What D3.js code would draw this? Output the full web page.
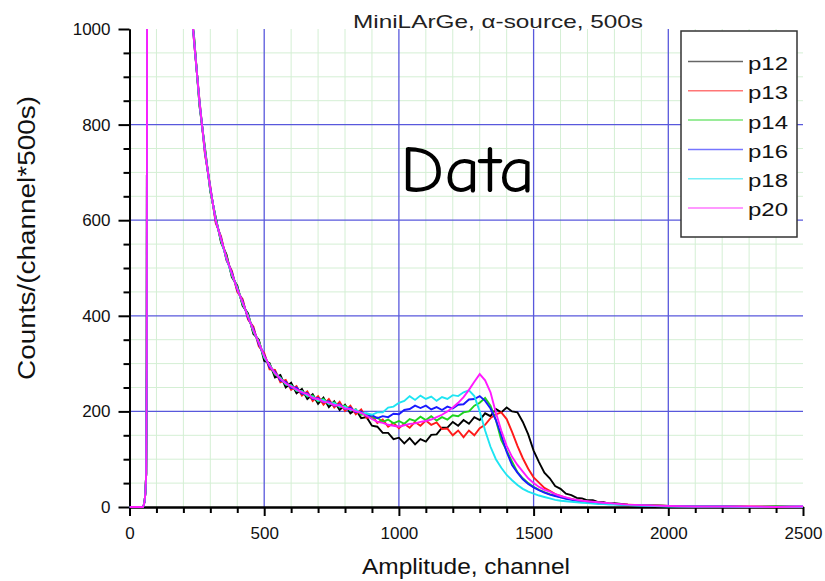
<!DOCTYPE html>
<html lang="en">
<head>
	<meta charset="utf-8">
	<title>MiniLArGe alpha-source spectra</title>
	<script src="https://d3js.org/d3.v7.min.js"></script>
	<style type="text/css">
		body { margin: 0; background: #fff; }
		.axis path,
		.axis line {
			fill: none;
			stroke: black;
			stroke-width: 2;
		}
		.axis text {
			font-family: "Liberation Sans", Arial, sans-serif;
			font-size: 17px;
			fill: #111;
		}
	</style>
</head>
<body>
<script type="text/javascript">

	// Rising edge near the threshold - every series sits on top of each other here
	var riseChannels = [0, 50, 53, 56, 59, 62, 64, 66, 100, 150, 200, 225, 236];
	var riseCounts   = [0, 0, 4, 12, 30, 70, 300, 1500, 3000, 2600, 1600, 1150, 1000];

	// Channels sampled for the rest of the spectrum
	var channels = [
		240, 260, 280, 300, 320, 340, 360, 380, 400, 420,
		440, 460, 480, 500, 520, 540, 560, 580, 600, 620,
		640, 660, 680, 700, 720, 740, 760, 780, 800, 820,
		840, 860, 880, 900, 920, 940, 960, 980, 1000, 1020,
		1040, 1060, 1080, 1100, 1120, 1140, 1160, 1180, 1200, 1220,
		1240, 1260, 1280, 1300, 1320, 1340, 1360, 1380, 1400, 1420,
		1440, 1460, 1480, 1500, 1520, 1540, 1560, 1580, 1600, 1620,
		1640, 1660, 1680, 1700, 1720, 1740, 1760, 1780, 1800,
		1850, 1900, 1950, 2000, 2100, 2200, 2300, 2400, 2500
	];

	var p12 = [
		982, 838, 752, 660, 606, 553, 528, 481, 463, 421,
		405, 362, 350, 306, 301, 271, 276, 250, 260, 238,
		247, 226, 236, 216, 229, 209, 221, 203, 214, 196,
		204, 186, 188, 170, 168, 155, 155, 142, 145, 133,
		144, 131, 142, 137, 151, 152, 166, 166, 178, 170,
		182, 174, 188, 182, 196, 190, 205, 198, 208, 200,
		198, 178, 152, 118, 94, 72, 60, 44, 38, 28,
		25, 19, 18, 14, 14, 10, 10, 7, 8,
		5, 4, 3, 2, 1, 1, 0, 1, 0
	];
	var p13 = [
		970, 850, 738, 670, 594, 566, 516, 494, 450, 435,
		392, 377, 336, 322, 288, 287, 261, 266, 245, 253,
		233, 242, 222, 232, 214, 226, 208, 220, 201, 212,
		194, 204, 186, 191, 176, 183, 168, 176, 165, 174,
		166, 178, 170, 181, 172, 177, 163, 164, 150, 160,
		146, 160, 150, 165, 172, 186, 194, 198, 184, 157,
		128, 102, 80, 62, 51, 40, 34, 27, 23, 19,
		17, 14, 13, 11, 10, 9, 8, 7, 6,
		5, 4, 3, 2, 1, 1, 1, 0, 0
	];
	var p14 = [
		978, 842, 748, 662, 604, 556, 525, 484, 460, 424,
		402, 366, 347, 312, 298, 277, 271, 256, 255, 243,
		243, 231, 233, 221, 226, 215, 219, 209, 212, 202,
		204, 193, 195, 185, 187, 178, 183, 175, 180, 174,
		184, 180, 189, 182, 190, 181, 188, 183, 192, 190,
		198, 200, 212, 218, 228, 212, 182, 140, 118, 95,
		73, 60, 50, 42, 36, 31, 27, 24, 21, 18,
		16, 14, 12, 11, 10, 9, 8, 7, 6,
		4, 3, 3, 2, 1, 1, 0, 1, 0
	];
	var p16 = [
		972, 848, 742, 668, 598, 562, 518, 491, 454, 431,
		395, 373, 340, 318, 292, 283, 265, 262, 249, 250,
		237, 238, 226, 228, 219, 221, 212, 215, 205, 208,
		198, 200, 190, 192, 186, 190, 188, 195, 194, 203,
		205, 212, 207, 212, 204, 209, 203, 210, 206, 214,
		215, 225, 226, 232, 222, 206, 182, 150, 115, 88,
		72, 58, 48, 41, 35, 30, 26, 23, 20, 17,
		15, 13, 11, 10, 9, 8, 7, 6, 6,
		4, 3, 2, 2, 1, 1, 0, 0, 1
	];
	var p18 = [
		976, 844, 746, 664, 602, 558, 520, 486, 458, 426,
		400, 368, 345, 313, 297, 279, 270, 257, 254, 244,
		242, 233, 231, 223, 224, 216, 217, 210, 210, 203,
		203, 196, 196, 193, 198, 198, 208, 210, 218, 222,
		232, 224, 233, 226, 231, 222, 230, 226, 234, 232,
		240, 244, 232, 200, 160, 126, 100, 82, 67, 56,
		46, 38, 32, 28, 24, 21, 18, 15, 13, 12,
		11, 10, 9, 8, 7, 6, 6, 5, 5,
		4, 3, 2, 1, 1, 1, 0, 0, 0
	];
	var p20 = [
		974, 846, 744, 666, 600, 560, 522, 488, 456, 428,
		398, 370, 344, 316, 296, 280, 268, 259, 252, 246,
		240, 236, 228, 226, 220, 219, 213, 213, 206, 205,
		200, 197, 191, 184, 178, 176, 172, 170, 168, 171,
		174, 175, 178, 180, 183, 188, 193, 200, 208, 218,
		230, 245, 262, 278, 265, 240, 197, 160, 128, 105,
		88, 74, 60, 50, 42, 36, 32, 27, 23, 20,
		17, 15, 13, 12, 11, 10, 9, 8, 7,
		5, 4, 3, 2, 1, 1, 1, 0, 1
	];

	var seriesNames  = ["p12", "p13", "p14", "p16", "p18", "p20"];
	var seriesValues = [p12, p13, p14, p16, p18, p20];
	var seriesColors = ["#000000", "#ff1a1a", "#1ed41e", "#1a1aff", "#1ee4f2", "#ff1aff"];

	var xMajorTicks = [0, 500, 1000, 1500, 2000, 2500];
	var yMajorTicks = [0, 200, 400, 600, 800, 1000];

	// Define margins
	var margin = {top: 29, right: 22, bottom: 74, left: 129.5};
	var outer_width = 825;
	var outer_height = 581;
	var svg_width = outer_width - margin.left - margin.right;
	var svg_height = outer_height - margin.top - margin.bottom;

	var svg = d3.select("body")
				.append("svg")
				.attr("width", outer_width)
				.attr("height", outer_height)
				.append("g")
				.attr("transform", "translate(" + margin.left + "," + margin.top + ")");

	var xScale = d3.scaleLinear().domain([0, 2500]).range([0, svg_width]);
	var yScale = d3.scaleLinear().domain([0, 1000]).range([svg_height, 0]);

	// minor ticks / grid positions
	var xMinor = d3.range(100, 2500, 100).filter(function(v) { return v % 500 != 0; });
	var yMinor = d3.range(50, 1000, 50).filter(function(v) { return v % 200 != 0; });

	// light green minor grid
	svg.append("g").selectAll("line.vminor")
		.data(xMinor).enter().append("line")
		.attr("x1", function(d) { return xScale(d); })
		.attr("x2", function(d) { return xScale(d); })
		.attr("y1", 0).attr("y2", svg_height)
		.attr("stroke", "#d4efd4").attr("stroke-width", 1);
	svg.append("g").selectAll("line.hminor")
		.data(yMinor).enter().append("line")
		.attr("x1", 0).attr("x2", svg_width)
		.attr("y1", function(d) { return yScale(d); })
		.attr("y2", function(d) { return yScale(d); })
		.attr("stroke", "#d4efd4").attr("stroke-width", 1);

	// blue major grid
	svg.append("g").selectAll("line")
		.data(xMajorTicks.slice(1, -1)).enter().append("line")
		.attr("x1", function(d) { return xScale(d); })
		.attr("x2", function(d) { return xScale(d); })
		.attr("y1", 0).attr("y2", svg_height)
		.attr("stroke", "#5858dc").attr("stroke-width", 1.3);
	svg.append("g").selectAll("line")
		.data(yMajorTicks.slice(1, -1)).enter().append("line")
		.attr("x1", 0).attr("x2", svg_width)
		.attr("y1", function(d) { return yScale(d); })
		.attr("y2", function(d) { return yScale(d); })
		.attr("stroke", "#5858dc").attr("stroke-width", 1.3);

	// Axes
	svg.append("g")
		.attr("class", "axis")
		.attr("transform", "translate(0," + svg_height + ")")
		.call(d3.axisBottom(xScale).tickValues(xMinor).tickSize(6).tickSizeOuter(0).tickFormat(""));
	svg.append("g")
		.attr("class", "axis")
		.attr("transform", "translate(0," + svg_height + ")")
		.call(d3.axisBottom(xScale).tickValues(xMajorTicks).tickSize(9).tickSizeOuter(0).tickPadding(11).tickFormat(d3.format("d")));
	svg.append("g")
		.attr("class", "axis")
		.call(d3.axisLeft(yScale).tickValues(yMinor).tickSize(6).tickSizeOuter(0).tickFormat(""));
	svg.append("g")
		.attr("class", "axis")
		.call(d3.axisLeft(yScale).tickValues(yMajorTicks).tickSize(11).tickSizeOuter(0).tickPadding(8).tickFormat(d3.format("d")));

	// clip the spectra to the plot frame
	svg.append("clipPath").attr("id", "plotclip")
		.append("rect")
		.attr("x", 0).attr("y", 0)
		.attr("width", svg_width).attr("height", svg_height + 2);

	var line = d3.line()
		.x(function(d) { return xScale(d[0]); })
		.y(function(d) { return yScale(d[1]); });

	var curves = svg.append("g").attr("clip-path", "url(#plotclip)");
	seriesValues.forEach(function(vals, i) {
		var pts = riseChannels.map(function(c, j) { return [c, riseCounts[j]]; })
			.concat(channels.map(function(c, j) { return [c, vals[j]]; }));
		curves.append("path")
			.datum(pts)
			.attr("d", line)
			.attr("fill", "none")
			.attr("stroke", seriesColors[i])
			.attr("stroke-width", 1.9)
			.attr("stroke-linejoin", "miter");
	});

	// Title
	svg.append("text")
		.attr("x", 353 - margin.left)
		.attr("y", 28 - margin.top)
		.attr("textLength", 290)
		.attr("lengthAdjust", "spacingAndGlyphs")
		.style("font-family", "Liberation Sans, Arial, sans-serif")
		.style("font-size", "18.5px")
		.attr("fill", "#222")
		.text("MiniLArGe, \u03b1-source, 500s");

	// big "Data" label
	svg.append("text")
		.attr("x", 400 - margin.left)
		.attr("y", 192 - margin.top)
		.attr("textLength", 135)
		.attr("lengthAdjust", "spacingAndGlyphs")
		.style("font-family", "'Comic Sans MS', 'Comic Neue', 'DejaVu Sans', sans-serif")
		.style("font-size", "66px")
		.attr("fill", "#000")
		.text("Data");

	// Axis titles
	svg.append("text")
		.attr("x", 362 - margin.left)
		.attr("y", 574 - margin.top)
		.attr("textLength", 208)
		.attr("lengthAdjust", "spacingAndGlyphs")
		.style("font-family", "Liberation Sans, Arial, sans-serif")
		.style("font-size", "22px")
		.attr("fill", "#111")
		.text("Amplitude, channel");

	svg.append("text")
		.attr("transform", "translate(" + (35 - margin.left) + "," + (380 - margin.top) + ") rotate(-90)")
		.attr("textLength", 284)
		.attr("lengthAdjust", "spacingAndGlyphs")
		.style("font-family", "Liberation Sans, Arial, sans-serif")
		.style("font-size", "23px")
		.attr("fill", "#111")
		.text("Counts/(channel*500s)");

	// Legend
	var legend = svg.append("g")
		.attr("transform", "translate(" + (681 - margin.left) + "," + (31 - margin.top) + ")");
	legend.append("rect")
		.attr("width", 116).attr("height", 206)
		.attr("fill", "white")
		.attr("stroke", "#333").attr("stroke-width", 1.5);
	var entries = legend.selectAll("g.entry")
		.data(seriesNames).enter().append("g")
		.attr("transform", function(d, i) { return "translate(0," + (30.5 + i * 29.3) + ")"; });
	entries.append("line")
		.attr("x1", 7).attr("x2", 62)
		.attr("stroke", function(d, i) { return seriesColors[i]; })
		.attr("stroke-opacity", 0.6)
		.attr("stroke-width", 1.5);
	entries.append("text")
		.attr("x", 67).attr("y", 8.4)
		.attr("textLength", 40)
		.attr("lengthAdjust", "spacingAndGlyphs")
		.style("font-family", "Liberation Sans, Arial, sans-serif")
		.style("font-size", "18.5px")
		.attr("fill", "#111")
		.text(function(d) { return d; });

</script>
</body>
</html>
